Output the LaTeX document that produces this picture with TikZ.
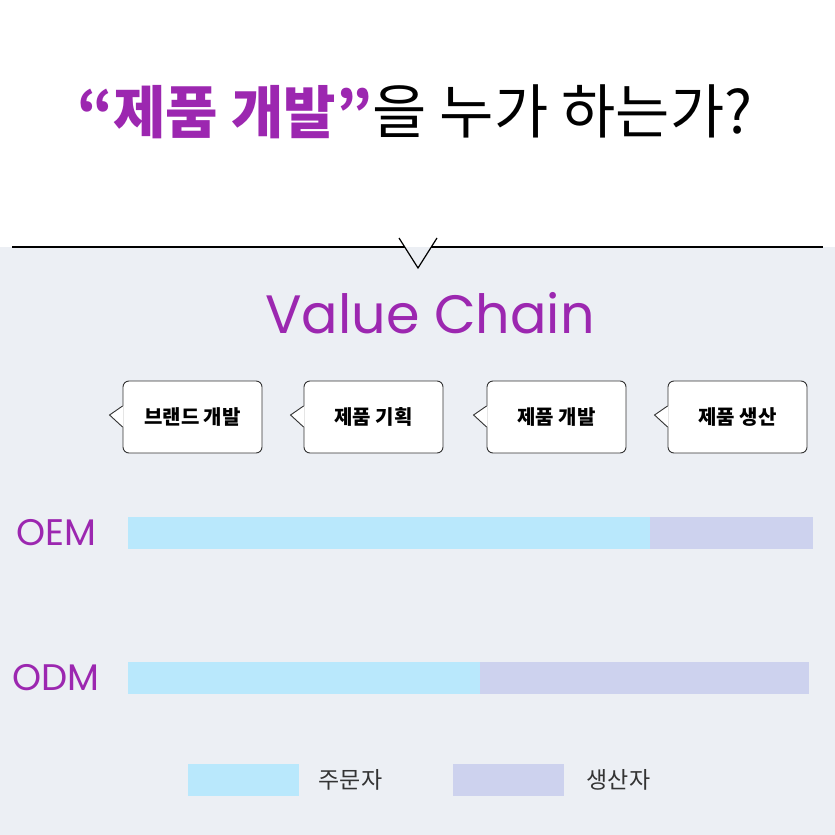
\documentclass[tikz,border=0pt]{standalone}
\usepackage{fontspec}
\setmainfont{Noto Sans CJK KR}
\newfontfamily\handfont{Poppins}
\usepackage{tikz}
\usepackage{xcolor}
\usetikzlibrary{positioning}

\definecolor{vcpurple}{HTML}{9C27B0}
\definecolor{pagegray}{HTML}{ECEFF4}
\definecolor{ordercol}{HTML}{B9E8FC}
\definecolor{makercol}{HTML}{CDD2EE}
\definecolor{boxline}{HTML}{333333}

\begin{document}
\begin{tikzpicture}[
                x=1pt, y=-1pt,
                stage/.style={draw=boxline, line width=0.9pt, fill=white,
                    rounded corners=6pt, minimum width=139pt, minimum height=72pt,
                    font=\bfseries\fontsize{20}{22}\selectfont},
                rowlabel/.style={text=vcpurple, font=\handfont\fontsize{37}{40}\selectfont},
                swatch/.style={minimum width=111pt, minimum height=32pt, inner sep=0pt},
                legendtext/.style={text=black!80, font=\fontsize{23}{25}\selectfont}]
            % page
            \useasboundingbox (0,0) rectangle (835,835);
            \fill[white] (0,0) rectangle (835,247);
            \fill[pagegray] (0,247) rectangle (835,835);

            % title
            \node (title) at (415,112) {{\color{vcpurple}\bfseries\fontsize{57}{62}\selectfont “제품 개발”}{\fontsize{59}{64}\selectfont 을 누가 하는가?}};

            % divider with notch
            \coordinate (rule left) at (12,247);
            \coordinate (rule right) at (823,247);
            \coordinate (notch a) at (404.7,247);
            \coordinate (notch b) at (431.3,247);
            \coordinate (notch left) at (399,238);
            \coordinate (notch tip) at (418,268);
            \coordinate (notch right) at (437,238);
            \draw[line width=1.2pt] (rule left) -- (notch a);
            \draw[line width=1.2pt] (notch b) -- (rule right);
            \draw[line width=1.2pt] (notch left) -- (notch tip) -- (notch right);

            \node[text=vcpurple, font=\handfont\fontsize{54}{58}\selectfont] (chain) at (430,313) {Value Chain};

            % stages
            \node[stage] (brand) at (192.5,417) {브랜드 개발};
            \node[stage] (plan) at (373.5,417) {제품 기획};
            \node[stage] (dev) at (556.5,417) {제품 개발};
            \node[stage] (make) at (737.5,417) {제품 생산};
            \foreach \s in {brand,plan,dev,make}{
                \fill[white] ([shift={(1pt,11pt)}]\s.west) -- ([shift={(-13pt,2pt)}]\s.west) -- ([shift={(1pt,-10pt)}]\s.west) -- cycle;
                \draw[boxline, line width=0.9pt] ([yshift=11pt]\s.west) -- ([shift={(-13pt,2pt)}]\s.west) -- ([yshift=-10pt]\s.west);
            }

            % bars
            \node[rowlabel] (oem) at (56,533) {OEM};
            \fill[ordercol] (128,517) rectangle (650,549);
            \fill[makercol] (650,517) rectangle (813,549);
            \node[rowlabel] (odm) at (56,678) {ODM};
            \fill[ordercol] (128,662) rectangle (480,694);
            \fill[makercol] (480,662) rectangle (809,694);

            % legend
            \node[swatch, fill=ordercol] (order key) at (243.5,780) {};
            \node[legendtext, right=16pt of order key] (order text) {주문자};
            \node[swatch, fill=makercol] (maker key) at (508.5,780) {};
            \node[legendtext, right=19pt of maker key] (maker text) {생산자};
        \end{tikzpicture}
\end{document}
